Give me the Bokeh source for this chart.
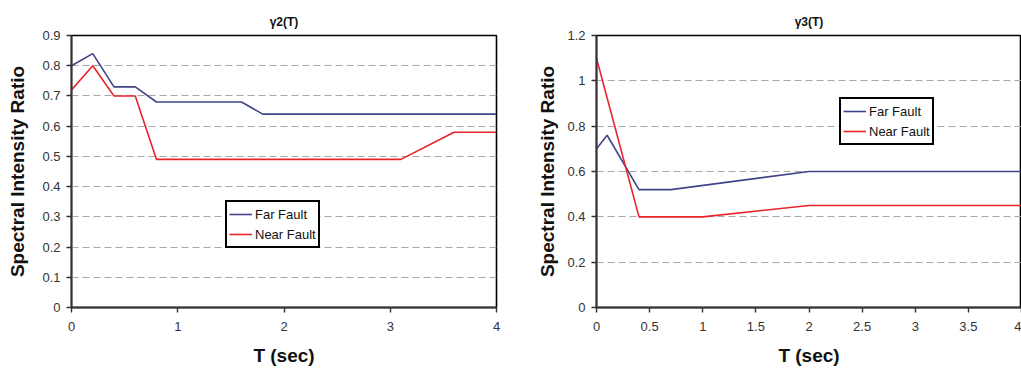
from bokeh.plotting import figure
from bokeh.layouts import row
from bokeh.models import FixedTicker, Range1d, Legend, LegendItem
from bokeh.embed import file_html
from bokeh.resources import INLINE

# ---- data: gamma2(T) ----
g2_far_T = [0.0, 0.2, 0.4, 0.6, 0.8, 1.6, 1.8, 4.0]
g2_far_v = [0.80, 0.84, 0.73, 0.73, 0.68, 0.68, 0.64, 0.64]
g2_near_T = [0.0, 0.2, 0.4, 0.6, 0.8, 3.1, 3.6, 4.0]
g2_near_v = [0.72, 0.80, 0.70, 0.70, 0.49, 0.49, 0.58, 0.58]

# ---- data: gamma3(T) ----
g3_far_T = [0.0, 0.1, 0.4, 0.7, 2.0, 4.0]
g3_far_v = [0.70, 0.76, 0.52, 0.52, 0.60, 0.60]
g3_near_T = [0.0, 0.4, 1.0, 2.0, 4.0]
g3_near_v = [1.10, 0.40, 0.40, 0.45, 0.45]

# ---- ticks ----
g2_xticks = [0, 1, 2, 3, 4]
g2_xlabels = ["0", "1", "2", "3", "4"]
g2_yticks = [0, 0.1, 0.2, 0.3, 0.4, 0.5, 0.6, 0.7, 0.8, 0.9]
g2_ylabels = ["0", "0.1", "0.2", "0.3", "0.4", "0.5", "0.6", "0.7", "0.8", "0.9"]
g3_xticks = [0, 0.5, 1, 1.5, 2, 2.5, 3, 3.5, 4]
g3_xlabels = ["0", "0.5", "1", "1.5", "2", "2.5", "3", "3.5", "4"]
g3_yticks = [0, 0.2, 0.4, 0.6, 0.8, 1.0, 1.2]
g3_ylabels = ["0", "0.2", "0.4", "0.6", "0.8", "1", "1.2"]

series_names = ["Far Fault", "Near Fault"]
titles = ["\u03b32(T)", "\u03b33(T)"]
x_title = "T (sec)"
y_title = "Spectral Intensity Ratio"

FAR_C = "#42448a"
NEAR_C = "#e8242a"
FONT = "Liberation Sans"


def make_fig(title, w, h, mbl, mbr, mbt, mbb, ymax, xt, xl, yt, yl,
             far, near, legend_loc, ylab_standoff, xlab_standoff):
    p = figure(width=w, height=h, output_backend="svg", toolbar_location=None,
               x_range=Range1d(0, 4), y_range=Range1d(0, ymax),
               min_border_left=mbl, min_border_right=mbr,
               min_border_top=mbt, min_border_bottom=mbb,
               title=title)
    p.title.align = "center"
    p.title.text_font = FONT
    p.title.text_font_size = "12px"
    p.title.text_font_style = "bold"
    p.title.text_color = "#111111"
    p.title.offset = 0
    p.title.standoff = 13
    p.outline_line_color = "black"
    p.outline_line_width = 1.6
    p.outline_line_alpha = 1

    r_far = p.line(far[0], far[1], line_color=FAR_C, line_width=1.6)
    r_near = p.line(near[0], near[1], line_color=NEAR_C, line_width=1.6)

    lg = Legend(items=[LegendItem(label=series_names[0], renderers=[r_far]),
                       LegendItem(label=series_names[1], renderers=[r_near])],
                location=legend_loc,
                border_line_color="black", border_line_width=2,
                border_line_alpha=1.0,
                background_fill_color="white", background_fill_alpha=1.0,
                label_text_font=FONT, label_text_font_size="13px",
                label_text_color="#111111",
                glyph_width=23, glyph_height=20, label_height=20,
                label_standoff=3, padding=2, spacing=0, margin=0)
    p.add_layout(lg, "center")

    p.xaxis.ticker = FixedTicker(ticks=xt)
    p.xaxis.major_label_overrides = {t: l for t, l in zip(xt, xl)}
    p.yaxis.ticker = FixedTicker(ticks=yt)
    p.yaxis.major_label_overrides = {t: l for t, l in zip(yt, yl)}

    for ax in (p.xaxis, p.yaxis):
        ax.axis_line_color = "#333333"
        ax.axis_line_width = 1.8
        ax.major_tick_line_color = "#333333"
        ax.major_tick_line_width = 1.4
        ax.major_tick_out = 5
        ax.major_tick_in = 0
        ax.minor_tick_line_color = None
        ax.major_label_text_font = FONT
        ax.major_label_text_font_size = "13px"
        ax.major_label_text_color = "#333333"
        ax.axis_label_text_font = FONT
        ax.axis_label_text_font_size = "19px"
        ax.axis_label_text_font_style = "bold"
        ax.axis_label_text_color = "#111111"
    p.xaxis.axis_label = x_title
    p.yaxis.axis_label = y_title
    p.xaxis.major_label_standoff = 9
    p.yaxis.major_label_standoff = 6
    p.xaxis.axis_label_standoff = xlab_standoff
    p.yaxis.axis_label_standoff = ylab_standoff

    p.xgrid.grid_line_color = None
    p.ygrid.grid_line_color = "#a8a8a8"
    p.ygrid.grid_line_dash = "7 4"
    p.ygrid.grid_line_width = 1
    return p


p1 = make_fig(titles[0], 520, 368, 71, 24, 35, 61, 0.9,
              g2_xticks, g2_xlabels, g2_yticks, g2_ylabels,
              (g2_far_T, g2_far_v), (g2_near_T, g2_near_v), (154, 59), 11, 11)
p2 = make_fig(titles[1], 501, 368, 76, 0, 35, 61, 1.2,
              g3_xticks, g3_xlabels, g3_yticks, g3_ylabels,
              (g3_far_T, g3_far_v), (g3_near_T, g3_near_v), (243, 162), 6, 11)

layout = row(p1, p2)
open("out.html", "w").write(file_html(layout, INLINE))
